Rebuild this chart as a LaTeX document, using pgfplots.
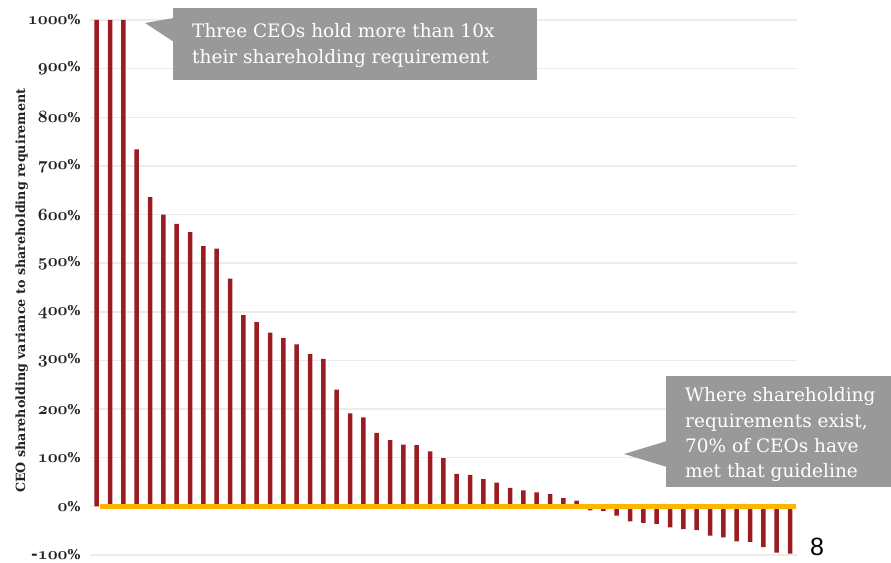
\documentclass[border=0pt]{standalone}
\usepackage{pgfplots}
\pgfplotsset{compat=1.18}
\usepackage{fontspec}
\newfontfamily\arialfont{Liberation Sans}
\newfontfamily\callfont{DejaVu Serif}
\definecolor{barred}{RGB}{155,28,34}
\definecolor{zeroline}{RGB}{255,180,0}
\definecolor{boxgray}{RGB}{153,153,153}
\definecolor{gridgray}{RGB}{236,236,236}
\definecolor{labelgray}{RGB}{35,35,35}
\newcommand\osb[1]{{\usefont{OML}{cmm}{b}{it}#1}}
\newcommand\tl[1]{\osb{#1}{\callfont\bfseries\fontsize{13.5}{13.5}\selectfont\%}}
\pgfplotstableread{
x y
0 1000
1 1000
2 1000
3 734
4 636
5 600
6 581
7 564
8 535
9 530
10 468
11 393
12 379
13 357
14 346
15 333
16 313
17 303
18 240
19 191
20 183
21 151
22 136
23 127
24 126
25 113
26 99
27 67
28 65
29 56
30 49
31 38
32 33
33 29
34 25
35 17
36 12
37 -8
38 -10
39 -19
40 -31
41 -34
42 -36
43 -43
44 -47
45 -49
46 -60
47 -64
48 -72
49 -73
50 -84
51 -95
52 -97
}\ceodata
\begin{document}
\begin{tikzpicture}[x=1pt,y=1pt]
\path[use as bounding box] (0,0) rectangle (891,562);
\begin{axis}[
  at={(90pt,7pt)}, anchor=south west,
  scale only axis, width=706.7pt, height=535pt,
  xmin=-0.5, xmax=52.5, ymin=-100, ymax=1000,
  clip=false,
  axis line style={draw=none},
  major tick style={draw=none},
  xtick=\empty,
  ytick={-100,0,100,200,300,400,500,600,700,800,900,1000},
  yticklabels={{\callfont\bfseries-}\tl{100},\tl{0},\tl{100},\tl{200},\tl{300},\tl{400},\tl{500},\tl{600},\tl{700},\tl{800},\tl{900},\tl{1000}},
  yticklabel style={font=\fontsize{16}{16}\selectfont, text=labelgray, anchor=east, xshift=-6pt},
  ymajorgrids, grid style={gridgray, line width=1.5pt},
  ylabel={CEO shareholding variance to shareholding requirement},
  ylabel style={font=\callfont\bfseries\fontsize{12.7}{13}\selectfont, text=labelgray, at={(axis description cs:-0.0967,0.494)}, anchor=center},
]
\addplot[ybar, bar width=4.5pt, fill=barred, draw=none] table[x=x,y=y] {\ceodata};
\addplot[zeroline, line width=5pt, forget plot] coordinates {(0.25,0) (52.45,0)};
\end{axis}
% callout 1
\fill[boxgray] (173,554) rectangle (537,482);
\fill[boxgray] (145,539) -- (174,544) -- (174,520) -- cycle;
\node[anchor=base west, text=white, font=\callfont\fontsize{18.5}{24}\selectfont, inner sep=0pt] at (192,524) {Three CEOs hold more than 10x};
\node[anchor=base west, text=white, font=\callfont\fontsize{18.5}{24}\selectfont, inner sep=0pt] at (192,498) {their shareholding requirement};
% callout 2
\fill[boxgray] (666,186) rectangle (891,75);
\fill[boxgray] (624,108) -- (667,121) -- (667,95) -- cycle;
\node[anchor=base west, text=white, font=\callfont\fontsize{18.5}{24}\selectfont, inner sep=0pt] at (685,160) {Where shareholding};
\node[anchor=base west, text=white, font=\callfont\fontsize{18.5}{24}\selectfont, inner sep=0pt] at (685,134.5) {requirements exist,};
\node[anchor=base west, text=white, font=\callfont\fontsize{18.5}{24}\selectfont, inner sep=0pt] at (685,109) {70\% of CEOs have};
\node[anchor=base west, text=white, font=\callfont\fontsize{18.5}{24}\selectfont, inner sep=0pt] at (685,84) {met that guideline};
% page number
\node[anchor=base west, font=\arialfont\fontsize{25}{25}\selectfont, inner sep=0pt] at (810,7) {8};
\end{tikzpicture}
\end{document}
